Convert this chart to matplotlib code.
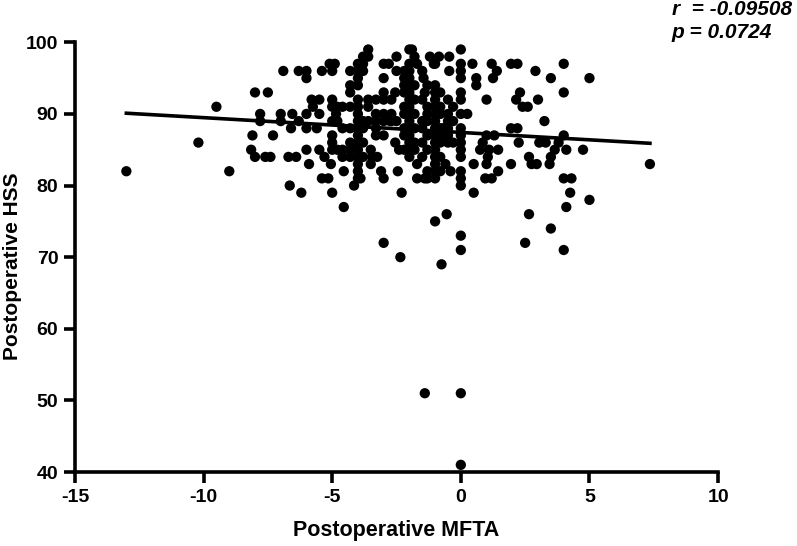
import numpy as np
import matplotlib
matplotlib.use("Agg")
import matplotlib.pyplot as plt

plt.rcParams['font.family'] = ['Liberation Sans', 'DejaVu Sans']
plt.rcParams['axes.unicode_minus'] = False

# Postoperative MFTA (x) / Postoperative HSS (y)
mfta = [
    -13.0, -10.2, -9.5, -9.0, -8.0, -7.5, -8.1, -8.15, -8.0, -7.8, -7.8, -7.6, -7.4, -7.3,
    -7.0, -7.0, -6.9, -6.7, -6.65, -6.55, -6.6, -6.4, -6.3, -6.2, -6.3, -6.0, -6.0, -6.0,
    -6.0, -6.0, -5.9, -5.8, -5.75, -5.6, -5.5, -5.5, -5.5, -5.4, -5.4, -5.15, -5.3, -5.1,
    -4.9, -5.0,
    -5.0, -5.0, -5.0, -5.0, -5.0, -5.0, -5.05, -5.0,
    -4.85, -4.8, -4.8, -4.8, -4.55, -4.55,
    -4.3, -4.3, -4.3, -4.3, -4.3, -4.3, -4.3, -4.3,
    -4.6, -4.6, -4.6, -4.6,
    -4.0, -4.0, -4.0, -4.0, -4.0, -4.0, -4.0, -4.0, -4.0, -4.0, -4.0, -4.0, -4.0, -4.0,
    -4.0, -4.0, -4.15,
    -3.8, -3.8, -3.8, -3.8, -3.8, -3.8, -3.8, -3.9,
    -3.6, -3.6, -3.6, -3.6, -3.6, -3.5, -3.45, -3.5, -3.25,
    -3.3, -3.3, -3.3, -3.3, -3.3, -3.1,
    -3.0, -3.0, -3.0, -3.0, -3.0, -3.0, -3.0, -3.0, -3.0,
    -2.8, -2.7, -2.7, -2.7, -2.75,
    -2.5, -2.5, -2.55, -2.5, -2.55, -2.4, -2.45, -2.3, -2.35,
    -2.2, -2.2, -2.2, -2.2, -2.2, -2.2, -2.2, -2.2, -2.2,
    -2.0, -2.0, -2.0, -2.0, -2.0, -2.0, -2.0, -2.0, -2.0, -2.0, -2.0, -2.0, -2.0, -2.0,
    -2.0, -1.9,
    -1.8, -1.7, -1.8, -1.8, -1.8, -1.8, -1.8, -1.8, -1.7, -1.7,
    -1.5, -1.45, -1.4, -1.5, -1.5, -1.5, -1.5, -1.5, -1.4, -1.4,
    -1.2, -1.3, -1.3, -1.3, -1.3, -1.3, -1.3, -1.3, -1.3,
    -1.0, -1.05, -1.0, -1.0, -1.0, -1.0, -1.0, -1.0, -1.0, -1.0, -1.0, -1.0, -1.0, -1.0,
    -1.0, -1.0, -1.0,
    -0.85, -0.8, -0.8, -0.8, -0.8, -0.8, -0.8, -0.8, -0.8, -0.75,
    -0.45, -0.45, -0.5, -0.5, -0.5, -0.5, -0.5, -0.5, -0.6, -0.4, -0.55,
    -0.3, -0.3, -0.3, -0.7,
    0.0, 0.0, 0.0, 0.0, 0.0, 0.0, 0.0, 0.0, 0.0, 0.0, 0.0, 0.0, 0.0, 0.0, 0.0, 0.0, 0.0,
    0.0, 0.0,
    0.25, 0.45, 0.6, 0.6, 0.5, 0.5, 0.75, 0.85, 1.0, 1.0, 1.1, 1.0, 1.05, 0.95, 1.2,
    1.2, 1.25, 1.4, 1.3, 1.45, 1.45, 1.95, 1.95, 2.2, 1.95, 2.2, 2.15, 2.3, 2.25,
    2.5, 2.65, 2.4, 2.6, 2.65, 2.75, 2.95, 2.9, 3.0, 3.25, 3.05, 3.3, 3.45, 3.5, 3.5,
    3.5, 3.65, 3.8, 4.0, 4.0, 4.0, 4.0, 4.1, 4.0, 4.1, 4.3, 4.25, 4.75, 5.0, 5.0, 7.35,
]
hss = [
    82, 86, 91, 82, 93, 93, 87, 85, 84, 90, 89, 84, 84, 87,
    90, 89, 96, 84, 80, 90, 88, 84, 89, 79, 96, 96, 95, 90,
    88, 85, 83, 92, 91, 88, 92, 90, 85, 96, 81, 81, 84, 97,
    97, 96,
    92, 91, 89, 87, 86, 85, 83, 79,
    90, 89, 85, 91, 82, 77,
    96, 94, 93, 91, 88, 86, 85, 84,
    91, 88, 85, 84,
    97, 96, 95, 94, 92, 91, 90, 89, 88, 87, 86, 85, 84, 83,
    82, 81, 80,
    98, 97, 96, 89, 88, 86, 84, 81,
    99, 98, 92, 91, 89, 85, 84, 83, 84,
    92, 90, 89, 88, 87, 82,
    97, 95, 93, 92, 90, 89, 87, 81, 72,
    97, 92, 90, 89, 89,
    98, 96, 93, 89, 86, 85, 82, 79, 70,
    96, 95, 94, 93, 91, 90, 88, 87, 85,
    99, 97, 96, 95, 94, 93, 92, 91, 90, 89, 88, 87, 86, 85,
    84, 99,
    98, 97, 94, 92, 90, 88, 86, 85, 83, 81,
    96, 95, 93, 92, 89, 88, 86, 84, 81, 51,
    98, 94, 91, 90, 89, 87, 85, 82, 81,
    97, 97, 94, 93, 92, 91, 90, 89, 88, 87, 86, 85, 84, 83,
    82, 81, 75,
    98, 93, 91, 90, 88, 87, 86, 84, 82, 69,
    98, 96, 92, 90, 89, 88, 87, 86, 83, 82, 76,
    91, 89, 86, 88,
    99, 97, 96, 95, 93, 92, 90, 88, 87, 86, 85, 84, 82, 81, 80, 73, 71,
    51, 41,
    90, 97, 95, 94, 83, 79, 85, 86, 92, 87, 85, 83, 84, 81, 81,
    97, 95, 96, 87, 85, 82, 83, 97, 97, 88, 88, 92, 93, 86,
    72, 76, 91, 91, 84, 83, 83, 96, 92, 89, 86, 86, 83, 84, 95,
    74, 85, 86, 97, 93, 87, 81, 77, 71, 85, 81, 79, 85, 95, 78, 83,
]

# regression line end points
fit_x = [-13.0, 7.35]
fit_y = [90.1, 85.9]

fig = plt.figure(figsize=(7.97, 5.46), dpi=100)
ax = fig.add_axes([0.094, 0.1355, 0.807, 0.787])

ax.scatter(mfta, hss, s=55, color='black', edgecolors='none', zorder=3)
ax.plot(fit_x, fit_y, color='black', linewidth=2.6, zorder=2)

ax.set_xlim(-15, 10)
ax.set_ylim(40, 100)
ax.set_xticks([-15, -10, -5, 0, 5, 10])
ax.set_yticks([40, 50, 60, 70, 80, 90, 100])

for side in ['top', 'right']:
    ax.spines[side].set_visible(False)
for side in ['left', 'bottom']:
    ax.spines[side].set_linewidth(2.6)

ax.tick_params(axis='both', direction='out', length=8, width=2.6, labelsize=14, pad=4)
for lab in ax.get_xticklabels() + ax.get_yticklabels():
    lab.set_fontweight('bold')

ax.set_xlabel('Postoperative MFTA', fontsize=15.5, fontweight='bold', labelpad=10)
ax.set_ylabel('Postoperative HSS', fontsize=15, fontweight='bold')
ax.yaxis.set_label_coords(-0.082, 0.48)

fig.text(0.843, 0.982, 'r  = -0.09508', fontsize=15, fontweight='bold', style='italic', va='center')
fig.text(0.843, 0.941, 'p = 0.0724', fontsize=15, fontweight='bold', style='italic', va='center')

fig.savefig('out.png', dpi=100)
